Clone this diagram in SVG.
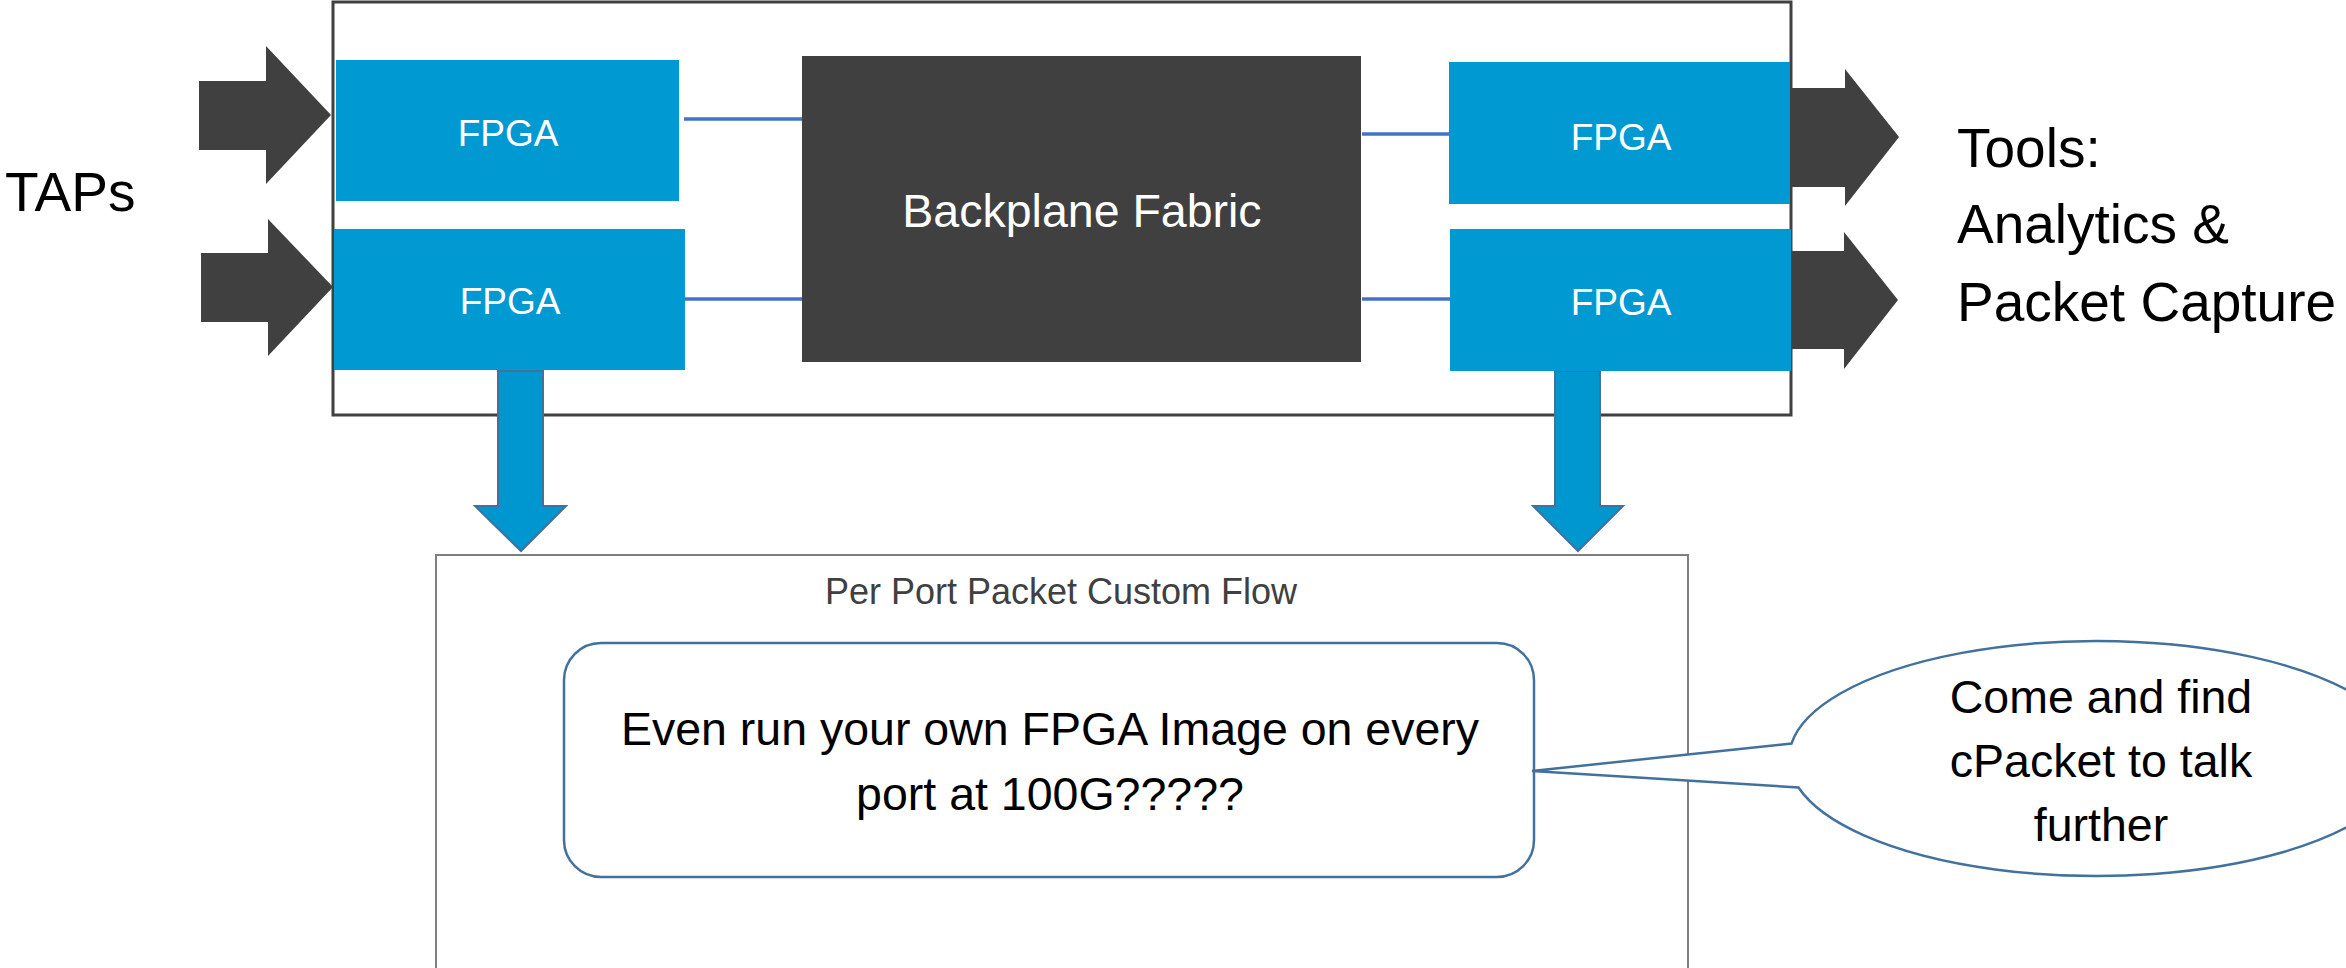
<svg xmlns="http://www.w3.org/2000/svg" width="2346" height="968" viewBox="0 0 2346 968">
<style>
.fpga{fill:#0099D2}
.fpgat{fill:#fff;font-family:"Liberation Sans",Arial,sans-serif;font-size:37px;text-anchor:middle}
.dark{fill:#404040}
.link{stroke:#4472C4;stroke-width:3.5;fill:none}
.down{fill:#0096CF;stroke:#41719C;stroke-width:2}
.lbl{fill:#000;font-family:"Liberation Sans",Arial,sans-serif;font-size:55px}
.body{fill:#000;font-family:"Liberation Sans",Arial,sans-serif;font-size:46.5px;text-anchor:middle}
.call{fill:#fff;stroke:#41719C;stroke-width:2.5}
</style>
<rect width="2346" height="968" fill="#fff"/>
<g id="chassis">
<rect x="333" y="2" width="1458" height="413" fill="#fff" stroke="#404040" stroke-width="3"/>
</g>
<g id="custom-flow">
<rect x="436" y="555" width="1252" height="440" fill="#fff" stroke="#7F7F7F" stroke-width="2"/>
<text x="1061" y="604" style="fill:#404040;font-family:'Liberation Sans',Arial,sans-serif;font-size:36px;text-anchor:middle">Per Port Packet Custom Flow</text>
</g>
<g id="connectors">
<line class="link" x1="684" y1="119" x2="802" y2="119"/>
<line class="link" x1="685" y1="299" x2="802" y2="299"/>
<line class="link" x1="1362" y1="134" x2="1449" y2="134"/>
<line class="link" x1="1362" y1="299" x2="1450" y2="299"/>
<polygon class="dark" points="199,81 266,81 266,46 331,115 266,184 266,150 199,150"/>
<polygon class="dark" points="201,253 268,253 268,219 333,287 268,356 268,322 201,322"/>
<polygon class="dark" points="1790,88 1845,88 1845,69 1899,137 1845,206 1845,187 1790,187"/>
<polygon class="dark" points="1791,251 1844,251 1844,232 1898,300 1844,369 1844,349 1791,349"/>
<polygon class="down" points="498,371 543,371 543,506 566,506 521,551 475,506 498,506"/>
<polygon class="down" points="1555,371 1600,371 1600,506 1623,506 1578,551 1533,506 1555,506"/>
</g>
<g id="fpga-in-1"><rect class="fpga" x="336" y="60" width="343" height="141"/><text class="fpgat" x="508" y="146">FPGA</text></g>
<g id="fpga-in-2"><rect class="fpga" x="334" y="229" width="351" height="141"/><text class="fpgat" x="510" y="314">FPGA</text></g>
<g id="backplane"><rect class="dark" x="802" y="56" width="559" height="306"/><text x="1082" y="227" style="fill:#fff;font-family:'Liberation Sans',Arial,sans-serif;font-size:46.5px;text-anchor:middle">Backplane Fabric</text></g>
<g id="fpga-out-1"><rect class="fpga" x="1449" y="62" width="341" height="142"/><text class="fpgat" x="1621" y="150">FPGA</text></g>
<g id="fpga-out-2"><rect class="fpga" x="1450" y="229" width="341" height="142"/><text class="fpgat" x="1621" y="315">FPGA</text></g>
<g id="taps"><text class="lbl" x="5" y="211">TAPs</text></g>
<g id="tools"><text class="lbl" x="1957" y="167">Tools:</text><text class="lbl" x="1957" y="243">Analytics &amp;</text><text class="lbl" x="1957" y="321">Packet Capture</text></g>
<g id="fpga-image">
<rect x="564" y="643" width="970" height="234" rx="37" ry="37" fill="#fff" stroke="#41719C" stroke-width="2.5"/>
<text class="body" x="1050" y="745">Even run your own FPGA Image on every</text>
<text class="body" x="1050" y="810">port at 100G?????</text>
</g>
<g id="callout">
<path class="call" d="M1791.5,743.5 A308,117.5 0 1 1 1798.5,787.5 L1532,771 Z"/>
<text class="body" x="2101" y="713">Come and find</text>
<text class="body" x="2101" y="777">cPacket to talk</text>
<text class="body" x="2101" y="841">further</text>
</g>
</svg>
